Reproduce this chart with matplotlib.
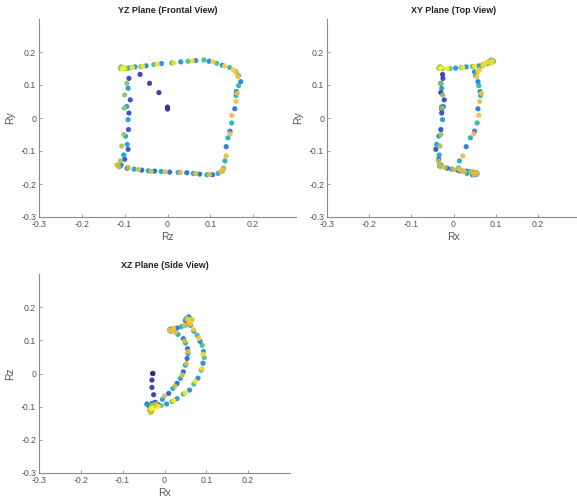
import numpy as np
import matplotlib
matplotlib.use("Agg")
import matplotlib.pyplot as plt
from matplotlib.colors import LinearSegmentedColormap

plt.rcParams['font.family'] = ['Liberation Sans', 'DejaVu Sans']

# 3-D rotation trajectory (start segment + three laps), in time order
rx = [
    # start
    -0.028, -0.028, -0.030, -0.030, -0.026,
    # lap 1
    -0.030, -0.025, -0.022, -0.028, -0.030, -0.042, -0.035, -0.033,
    -0.015, 0.010, 0.030, 0.045, 0.054, 0.055, 0.045, 0.015,
    0.030, 0.050, 0.058, 0.063, 0.058, 0.050,
    0.070, 0.085, 0.093, 0.092, 0.080, 0.060, 0.030, 0.005,
    # lap 2
    -0.027, -0.028, -0.024, -0.026, -0.035, -0.040, -0.034, -0.030,
    -0.005, 0.020, 0.038, 0.050, 0.056, 0.050, 0.032, 0.012,
    0.014, 0.040, 0.056, 0.064, 0.060, 0.052,
    0.062, 0.078, 0.090, 0.095, 0.088, 0.070, 0.045, 0.018, -0.008,
    # lap 3
    -0.032, -0.035, -0.030, -0.026, -0.028, -0.030, -0.032, -0.036, -0.033, -0.030,
    -0.020, 0.000, 0.025, 0.042, 0.052, 0.056, 0.048, 0.026, 0.018, 0.012,
    0.022, 0.048, 0.060, 0.062, 0.066, 0.055, 0.058, 0.062,
    0.070, 0.082, 0.092, 0.090, 0.074, 0.050, 0.022, -0.015, -0.028, -0.032,
]
ry = [
    0.033, 0.027, 0.077, 0.105, 0.132,
    0.153, 0.120, 0.055, 0.015, -0.035, -0.095, -0.125, -0.145,
    -0.152, -0.158, -0.161, -0.164, -0.166, -0.170, -0.172, -0.160,
    -0.087, -0.040, 0.028, 0.080, 0.110, 0.140,
    0.160, 0.172, 0.174, 0.170, 0.165, 0.158, 0.155, 0.151,
    0.150, 0.090, 0.035, -0.005, -0.055, -0.080, -0.112, -0.142,
    -0.155, -0.160, -0.162, -0.165, -0.168, -0.172, -0.168, -0.152,
    -0.130, -0.060, -0.015, 0.068, 0.098, 0.128,
    0.153, 0.166, 0.176, 0.172, 0.167, 0.162, 0.156, 0.153, 0.150,
    0.155, 0.150, 0.105, 0.070, 0.030, -0.050, -0.085, -0.130, -0.142, -0.148,
    -0.150, -0.156, -0.162, -0.163, -0.165, -0.168, -0.171, -0.163, -0.158, -0.155,
    -0.115, -0.048, 0.008, 0.050, 0.075, 0.125, 0.140, 0.146,
    0.158, 0.170, 0.173, 0.167, 0.164, 0.157, 0.153, 0.150, 0.152, 0.150,
]
rz = [
    0.000, 0.000, -0.020, -0.042, -0.064,
    -0.105, -0.090, -0.087, -0.090, -0.091, -0.092, -0.100, -0.110,
    -0.094, -0.060, -0.030, 0.005, 0.045, 0.075, 0.105, 0.128,
    0.137, 0.146, 0.157, 0.161, 0.171, 0.160,
    0.128, 0.097, 0.066, 0.031, -0.014, -0.050, -0.076, -0.092,
    -0.100, -0.092, -0.095, -0.092, -0.098, -0.094, -0.102, -0.108,
    -0.078, -0.045, -0.015, 0.025, 0.060, 0.092, 0.118, 0.131,
    0.134, 0.141, 0.150, 0.160, 0.166, 0.166,
    0.145, 0.115, 0.085, 0.048, 0.010, -0.032, -0.062, -0.085, -0.097,
    -0.108, -0.110, -0.095, -0.100, -0.101, -0.102, -0.107, -0.110, -0.118, -0.114,
    -0.092, -0.068, -0.038, -0.005, 0.030, 0.066, 0.098, 0.124, 0.128, 0.131,
    0.137, 0.146, 0.150, 0.160, 0.163, 0.164, 0.160, 0.153,
    0.133, 0.106, 0.058, 0.015, -0.024, -0.058, -0.082, -0.100, -0.104, -0.106,
]

tick_vals = [-0.3, -0.2, -0.1, 0, 0.1, 0.2]
tick_labels = ['-0.3', '-0.2', '-0.1', '0', '0.1', '0.2']

panels = [
    ("YZ Plane (Frontal View)", rz, ry, "Rz", "Ry", [39/577, 1-217/499, 257/577, 198/499]),
    ("XY Plane (Top View)", rx, ry, "Rx", "Ry", [327/577, 1-217/499, 253/577, 198/499]),
    ("XZ Plane (Side View)", rx, rz, "Rx", "Rz", [39/577, 1-473/499, 251/577, 199/499]),
]

parula = LinearSegmentedColormap.from_list("parula", [
    (0.00, (0.200, 0.150, 0.560)),
    (0.07, (0.200, 0.260, 0.800)),
    (0.14, (0.120, 0.380, 0.860)),
    (0.25, (0.100, 0.500, 0.900)),
    (0.37, (0.080, 0.620, 0.850)),
    (0.50, (0.080, 0.700, 0.720)),
    (0.62, (0.330, 0.760, 0.500)),
    (0.72, (0.780, 0.740, 0.260)),
    (0.85, (0.960, 0.730, 0.250)),
    (0.92, (0.970, 0.820, 0.190)),
    (1.00, (0.976, 0.960, 0.080)),
])

n = len(rx)
t = np.arange(n)

fig = plt.figure(figsize=(5.77, 4.99), dpi=100)
fig.patch.set_facecolor('white')
axc = '#8a8a8a'
for title, xs, ys, xl, yl, pos in panels:
    ax = fig.add_axes(pos)
    ax.scatter(xs, ys, c=t, cmap=parula, s=14, linewidths=0, alpha=0.92, zorder=3)
    ax.set_xlim(-0.3, 0.3)
    ax.set_ylim(-0.3, 0.3)
    ax.set_xticks(tick_vals)
    ax.set_xticklabels(tick_labels)
    ax.set_yticks(tick_vals)
    ax.set_yticklabels(tick_labels)
    for s in ['top', 'right']:
        ax.spines[s].set_visible(False)
    for s in ['left', 'bottom']:
        ax.spines[s].set_color(axc)
        ax.spines[s].set_linewidth(0.8)
    ax.tick_params(direction='in', length=2.5, width=0.6, color=axc,
                   labelsize=6.3, labelcolor='#555555', pad=2)
    ax.set_title(title, fontsize=6.4, fontweight='bold', color='#222222', pad=4)
    ax.set_xlabel(xl, fontsize=7.5, color='#555555', labelpad=2)
    ax.set_ylabel(yl, fontsize=7.5, color='#555555', labelpad=4)

fig.savefig("out.png", dpi=100, facecolor='white')
